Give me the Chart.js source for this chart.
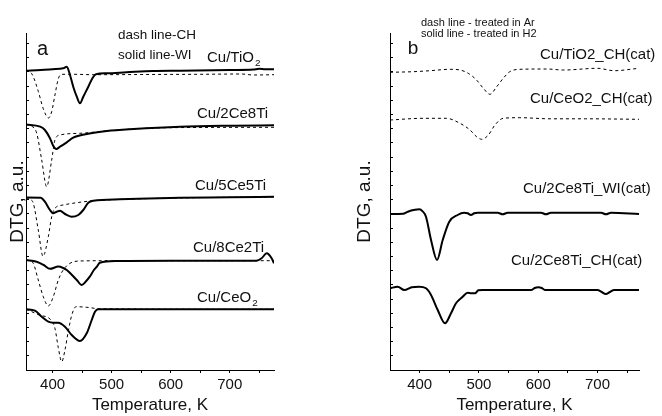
<!DOCTYPE html>
<html><head><meta charset="utf-8">
<script src="https://cdn.jsdelivr.net/npm/chart.js@4.4.1/dist/chart.umd.min.js"></script>
<style>
html,body{margin:0;padding:0;background:#fff;}
#wrap{position:relative;width:662px;height:416px;overflow:hidden;}
.pane{position:absolute;top:0;width:331px;height:416px;}
</style></head><body>
<div id="wrap">
<div class="pane" style="left:0"><canvas id="cA" width="331" height="416"></canvas></div>
<div class="pane" style="left:331px"><canvas id="cB" width="331" height="416"></canvas></div>
</div>
<script>
// ---------- axis tick labels ----------
const tempTickLabels = [400, 500, 600, 700];
const tempMinorTicks = [450, 550, 650, 750];

// ---------- panel a: [temperature K, DTG deviation a.u.] ----------
const catA = ['Cu/TiO2', 'Cu/2Ce8Ti', 'Cu/5Ce5Ti', 'Cu/8Ce2Ti', 'Cu/CeO2'];
const baselineA = [299.5, 246, 172.7, 110, 60.7];
const a_TiO2_WI = [[355,-0.2],[380,0.5],[400,1.3],[418,2.2],[424,3.8],[429.5,-4.5],[435,-16.2],[441,-26.2],[446.4,-32.8],[452,-26.2],[460.5,-16.2],[468,-7.2],[473.5,-3.8],[492,-2.8],[525,-1.8],[570,-0.5],[616,-0.2],[700,0.5],[740,1],[750,1.7],[760,1.2],[775,1.2]];
const a_TiO2_CH = [[355,0.5],[360,-0.5],[366,-4.5],[376,-21.2],[384,-37.8],[393,-47.5],[398.5,-41.2],[404,-24.5],[410,-7.8],[415.5,-3.8],[435,-3.8],[470,-4.2],[550,-4],[650,-3.8],[720,-3.5],[740,-4.5],[775,-4.2]];
const a_2Ce8Ti_WI = [[355,-0.5],[379,-2.7],[387,-6],[395.6,-14.3],[401,-21.7],[406,-25],[412.6,-22.7],[424,-18.3],[435,-13.7],[458,-10],[492,-7],[537,-5],[616,-2.7],[705,-1.7],[775,-1.3]];
const a_2Ce8Ti_CH = [[355,-0.5],[362,-1.5],[373,-9],[381.6,-36],[390,-62.7],[398.5,-36],[404,-16],[412.6,-11],[446,-9.3],[509,-6],[593,-3.7],[775,-3.3]];
const a_5Ce5Ti_WI = [[355,-0.3],[380,-0.4],[387,-4.4],[395.6,-12.7],[401,-16],[407,-14.4],[412.6,-13.4],[421,-16.7],[432,-19.4],[443.6,-17.7],[452,-12.7],[460.5,-5.4],[469,-3.4],[514,-2],[616,-0.4],[700,0],[775,0.6]];
const a_5Ce5Ti_CH = [[355,-0.3],[362,-2],[367.4,-6],[375.8,-32.7],[383.8,-59],[392.8,-39.4],[398.5,-19.4],[404,-11],[418,-7.7],[441,-5.4],[470,-3.4],[520,-2],[616,-0.6],[775,0.4]];
const a_8Ce2Ti_WI = [[355,0],[373,-1.7],[385,-5],[395.6,-8.8],[409.7,-6.6],[418,-8],[424,-10],[430,-13.3],[441,-20],[449.3,-25],[457,-21],[463,-16.7],[470,-10],[475,-6.7],[480,-2.7],[509,-1],[600,-0.7],[745,-0.7],[754,1.7],[762.6,6.7],[771,1.7],[775,-3.3]];
const a_8Ce2Ti_CH = [[355,0],[362,-1],[367.4,-3.3],[375.8,-20],[384.3,-36.7],[392.8,-46],[401.2,-36.7],[409.7,-20],[418,-10],[429.5,-3.3],[446,-1],[500,-0.7],[775,-0.7]];
const a_CeO2_WI = [[355,0],[370,-1.4],[381.6,-7.4],[392.8,-12.4],[401,-13.4],[409.7,-13.4],[421,-17.4],[432.4,-25.7],[446.4,-31.7],[457.8,-24],[466.3,-10.7],[471.8,-2.4],[477.4,0],[500,0],[775,0]];
const a_CeO2_CH = [[355,0],[364.7,-2.4],[378.7,-6],[395.6,-9.7],[404,-19],[409.7,-38.4],[415.5,-52.4],[421,-40.7],[426.6,-22],[432.4,-6],[439.7,2.6],[458,2],[480,0.5],[775,0]];
const seriesA_WI = [a_TiO2_WI, a_2Ce8Ti_WI, a_5Ce5Ti_WI, a_8Ce2Ti_WI, a_CeO2_WI];
const seriesA_CH = [a_TiO2_CH, a_2Ce8Ti_CH, a_5Ce5Ti_CH, a_8Ce2Ti_CH, a_CeO2_CH];

// ---------- panel b ----------
const catB = ['Cu/TiO2_CH(cat)', 'Cu/CeO2_CH(cat)', 'Cu/2Ce8Ti_WI(cat)', 'Cu/2Ce8Ti_CH(cat)'];
const baselineB = [298.3, 250.7, 156.7, 80];
const b_TiO2_Ar = [[350,-0.6],[389,0],[417.5,1],[451,2.4],[468,1.7],[482,-1.6],[496,-8.3],[507.4,-16.6],[518.7,-22.6],[530,-15],[541,-6.6],[552,0],[569,2.4],[614,2.7],[643,1.7],[700,3.4],[728,1],[770,3.4]];
const b_CeO2_Ar = [[350,-0.7],[406,1],[445,1],[468,-4],[485,-10.7],[496,-17.4],[504.7,-20],[516,-15.7],[527,-5.7],[541,1],[569,1.6],[620,0.5],[680,0.5],[770,0]];
const b_2Ce8Ti_WI_H2 = [[350,-0.7],[372,-0.5],[380,1.6],[392,3.5],[399.4,4],[405,2],[410.7,-3.4],[419.2,-26.7],[429.3,-46.7],[438.9,-26.7],[450,-8.4],[464,-1.7],[475,0.6],[481,0],[486.6,-1.7],[492,0],[498,0.6],[531.6,0.6],[540,-1],[548.5,0.6],[604.7,0.6],[613,-1],[621.5,0.6],[706,0.6],[714.3,-1],[722.7,0.6],[770,-0.7]];
const b_2Ce8Ti_CH_H2 = [[350,1.7],[363,3.3],[374,0],[386.6,2.7],[399.4,3.3],[410.7,1.7],[419.2,-5],[430.5,-20],[442.8,-33.3],[452.9,-23.3],[461.3,-13.3],[472.6,-6.7],[481,-2.7],[487,-3.3],[493.4,-3.3],[499,-0.3],[506,0],[588,0],[594,2],[600,2.7],[606,2],[612,0],[700,0],[707,-2],[714,-4],[721,-2],[728,0],[770,0]];
const seriesB = [b_TiO2_Ar, b_CeO2_Ar, b_2Ce8Ti_WI_H2, b_2Ce8Ti_CH_H2];
const dashedB = [true, true, false, false];

// ---------- helpers ----------
const FONT = "'Liberation Sans', Arial, Helvetica, sans-serif";
function toXY(pts, base) { return pts.map(p => ({x: p[0], y: p[1] + base})); }
function lineDs(label, pts, base, dashed) {
  return {
    label, data: toXY(pts, base), borderColor: '#000',
    borderWidth: dashed ? 1 : 2, borderDash: dashed ? [3, 3] : [],
    pointRadius: 0, fill: false, cubicInterpolationMode: 'monotone'
  };
}

const notesPlugin = {
  id: 'notes',
  afterDraw(chart, args, opts) {
    const {ctx, scales: {x, y}} = chart;
    ctx.save();
    ctx.fillStyle = '#111';
    ctx.textBaseline = 'alphabetic';
    ctx.textAlign = 'left';
    for (const n of opts.items) {
      ctx.font = n.size + 'px ' + FONT;
      const px = x.getPixelForValue(n.x), py = y.getPixelForValue(n.y);
      ctx.fillText(n.text, px, py);
      if (n.sub) {
        const w = ctx.measureText(n.text).width;
        ctx.font = (n.size * 0.66) + 'px ' + FONT;
        ctx.fillText(n.sub, px + w + 1, py + 4);
      }
    }
    ctx.restore();
  }
};

function makeOptions(xMin, xMax, yTitlePad, padRight, yWidth, notes) {
  return {
    responsive: false, animation: false, devicePixelRatio: 1,
    layout: {padding: {top: 33, right: padRight, left: 0, bottom: 0}, autoPadding: false},
    plugins: {legend: {display: false}, tooltip: {enabled: false}, notes: {items: notes}},
    scales: {
      x: {
        type: 'linear', min: xMin, max: xMax,
        afterBuildTicks: s => { s.ticks = tempTickLabels.concat(tempMinorTicks).sort((a, b) => a - b).map(v => ({value: v})); },
        afterFit: s => { s.height = 46; },
        ticks: {
          callback: v => tempTickLabels.includes(v) ? String(v) : '',
          color: '#111', font: {family: FONT, size: 15}, padding: 3, maxRotation: 0, autoSkip: false
        },
        grid: {drawOnChartArea: false, drawTicks: true, tickLength: 3, color: '#000'},
        border: {display: true, color: '#000', width: 1},
        title: {display: true, text: 'Temperature, K', color: '#111', font: {family: FONT, size: 17}, padding: 0}
      },
      y: {
        type: 'linear', min: 0, max: 337,
        afterFit: s => { s.width = yWidth; },
        ticks: {display: false, stepSize: 14.2, includeBounds: false},
        grid: {drawOnChartArea: false, drawTicks: true, tickLength: -3, color: '#000'},
        border: {display: true, color: '#000', width: 1},
        title: {display: true, text: 'DTG, a.u.', color: '#111', font: {family: FONT, size: 19}, padding: {top: yTitlePad, bottom: 0}}
      }
    }
  };
}

// ---------- panel a ----------
const dsA = [];
catA.forEach((c, i) => {
  dsA.push(lineDs(c + ' CH', seriesA_CH[i], baselineA[i], true));
  dsA.push(lineDs(c + ' WI', seriesA_WI[i], baselineA[i], false));
});
const notesA = [
  {text: 'a', x: 373.6, y: 315, size: 20},
  {text: 'dash line-CH', x: 510.8, y: 330.7, size: 13.5},
  {text: 'solid line-WI', x: 510.8, y: 311.5, size: 13.5},
  {text: 'Cu/TiO', sub: '2', x: 661.5, y: 308.3, size: 15},
  {text: 'Cu/2Ce8Ti', x: 644.6, y: 251.7, size: 15},
  {text: 'Cu/5Ce5Ti', x: 641.2, y: 180, size: 15},
  {text: 'Cu/8Ce2Ti', x: 637.8, y: 118.3, size: 15},
  {text: 'Cu/CeO', sub: '2', x: 644.6, y: 68.3, size: 15}
];
new Chart(document.getElementById('cA'), {
  type: 'line', data: {datasets: dsA},
  options: makeOptions(355, 775, 6, 57, 26, notesA),
  plugins: [notesPlugin]
});

// ---------- panel b ----------
const dsB = catB.map((c, i) => lineDs(c, seriesB[i], baselineB[i], dashedB[i]));
const notesB = [
  {text: 'b', x: 379.9, y: 316, size: 19},
  {text: 'dash line - treated in Ar', x: 402.3, y: 344, size: 11},
  {text: 'solid line - treated in H2', x: 402.3, y: 333.3, size: 11},
  {text: catB[0], x: 603, y: 310.7, size: 15},
  {text: catB[1], x: 586.1, y: 266.7, size: 15},
  {text: catB[2], x: 574.3, y: 176.7, size: 15},
  {text: catB[3], x: 554.1, y: 105, size: 15}
];
new Chart(document.getElementById('cB'), {
  type: 'line', data: {datasets: dsB},
  options: makeOptions(350, 770, 22, 23, 59, notesB),
  plugins: [notesPlugin]
});
</script>
</body></html>
